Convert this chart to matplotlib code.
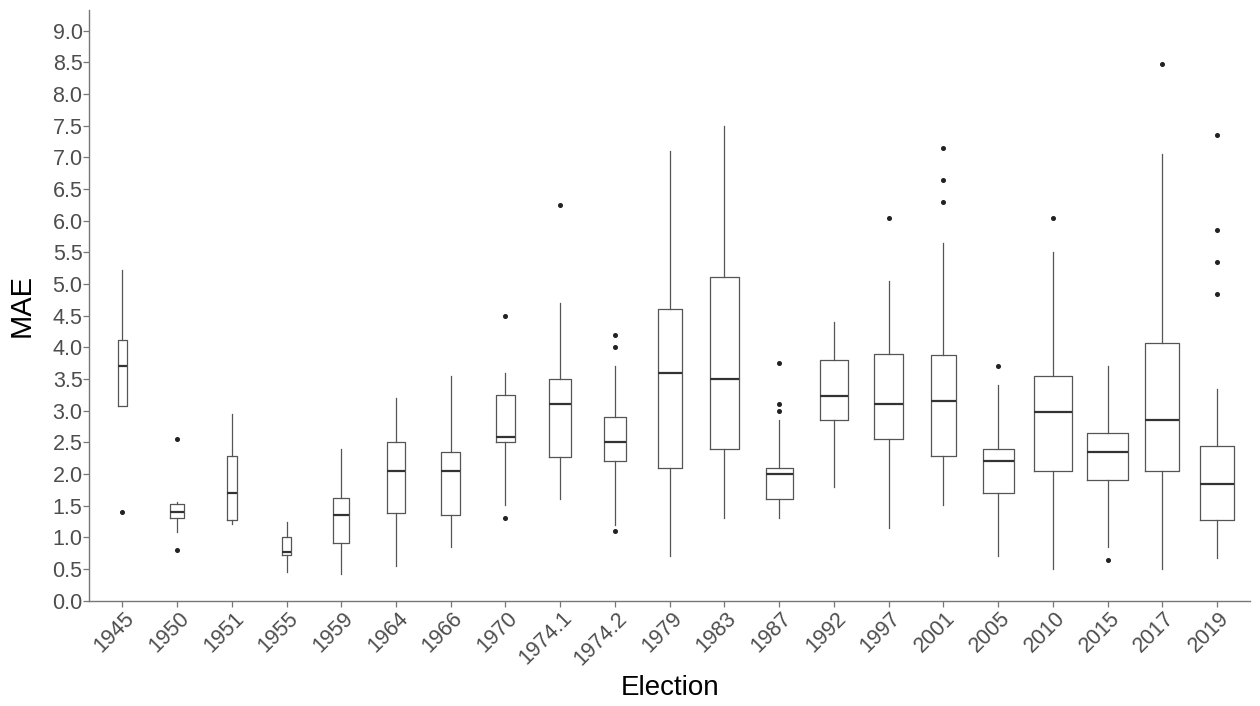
import matplotlib
matplotlib.use("Agg")
import matplotlib.pyplot as plt
from matplotlib.transforms import ScaledTranslation

elections = ["1945", "1950", "1951", "1955", "1959", "1964", "1966", "1970", "1974.1", "1974.2",
             "1979", "1983", "1987", "1992", "1997", "2001", "2005", "2010", "2015", "2017", "2019"]
whislo = [3.08, 1.08, 1.22, 0.45, 0.43, 0.55, 0.85, 1.52, 1.60, 1.20, 0.70, 1.30, 1.30, 1.80, 1.15, 1.52, 0.70, 0.50, 0.85, 0.50, 0.67]
q1     = [3.08, 1.30, 1.28, 0.72, 0.92, 1.38, 1.35, 2.50, 2.27, 2.20, 2.10, 2.40, 1.60, 2.85, 2.55, 2.28, 1.70, 2.05, 1.90, 2.05, 1.27]
med    = [3.71, 1.40, 1.70, 0.77, 1.35, 2.05, 2.05, 2.58, 3.10, 2.50, 3.60, 3.50, 2.00, 3.23, 3.10, 3.15, 2.20, 2.98, 2.35, 2.85, 1.85]
q3     = [4.12, 1.53, 2.28, 1.00, 1.62, 2.50, 2.35, 3.25, 3.50, 2.90, 4.60, 5.12, 2.10, 3.80, 3.90, 3.88, 2.40, 3.55, 2.65, 4.07, 2.45]
whishi = [5.22, 1.56, 2.95, 1.25, 2.40, 3.20, 3.55, 3.60, 4.70, 3.70, 7.10, 7.50, 2.85, 4.40, 5.05, 5.65, 3.40, 5.50, 3.70, 7.05, 3.35]
outliers = [[1.40], [2.55, 0.80], [], [], [], [], [], [4.50, 1.30], [6.25], [4.20, 4.00, 1.10],
            [], [], [3.75, 3.10, 3.00], [], [6.05], [7.15, 6.65, 6.30], [3.70], [6.05], [0.65], [8.48],
            [7.35, 5.85, 5.35, 4.85]]
box_widths = [0.159, 0.243, 0.182, 0.170, 0.297, 0.323, 0.347, 0.341, 0.396, 0.389, 0.432, 0.516,
              0.493, 0.516, 0.529, 0.462, 0.566, 0.688, 0.754, 0.620, 0.633]

stats = []
for i, lab in enumerate(elections):
    stats.append(dict(label=lab, whislo=whislo[i], q1=q1[i], med=med[i], q3=q3[i],
                      whishi=whishi[i], fliers=outliers[i]))

fig = plt.figure(figsize=(12.6, 7.06), dpi=100)
ax = fig.add_axes([0.071, 0.149, 0.921, 0.837])
positions = list(range(1, len(elections) + 1))
ax.bxp(stats, positions=positions, widths=box_widths, showcaps=False, patch_artist=False,
       boxprops=dict(color="#555555", linewidth=0.9),
       whiskerprops=dict(color="#555555", linewidth=0.9),
       medianprops=dict(color="#333333", linewidth=1.6),
       flierprops=dict(marker="o", markersize=2.6, markerfacecolor="#222222",
                       markeredgecolor="#222222", linestyle="none"))

ax.set_xlim(0.4, len(elections) + 0.6)
ax.set_ylim(0, 9.33)
yt = [i * 0.5 for i in range(19)]
ax.set_yticks(yt)
ax.set_yticklabels([f"{v:.1f}" for v in yt])
ax.set_xticks(positions)
ax.set_xticklabels(elections, rotation=45, ha="right", va="center", rotation_mode="anchor")

for s in ["top", "right"]:
    ax.spines[s].set_visible(False)
for s in ["left", "bottom"]:
    ax.spines[s].set_color("#777777")
    ax.spines[s].set_linewidth(1.0)
ax.tick_params(axis="both", colors="#777777", length=4, width=0.9, labelsize=15.5, labelcolor="#4d4d4d")
ax.tick_params(axis="y", pad=1)
ax.tick_params(axis="x", pad=2)
offset = ScaledTranslation(9 / 100, -6 / 100, fig.dpi_scale_trans)
for lbl in ax.get_xticklabels():
    lbl.set_fontfamily("Liberation Sans")
    lbl.set_transform(lbl.get_transform() + offset)
for lbl in ax.get_yticklabels():
    lbl.set_fontfamily("Liberation Sans")

ax.set_xlabel("Election", fontsize=20, family="Liberation Sans")
ax.set_ylabel("MAE", fontsize=21, family="Liberation Sans")
ax.xaxis.set_label_coords(0.5, -0.125)
ax.yaxis.set_label_coords(-0.046, 0.5)

fig.savefig("out.png", dpi=100, facecolor="white")
